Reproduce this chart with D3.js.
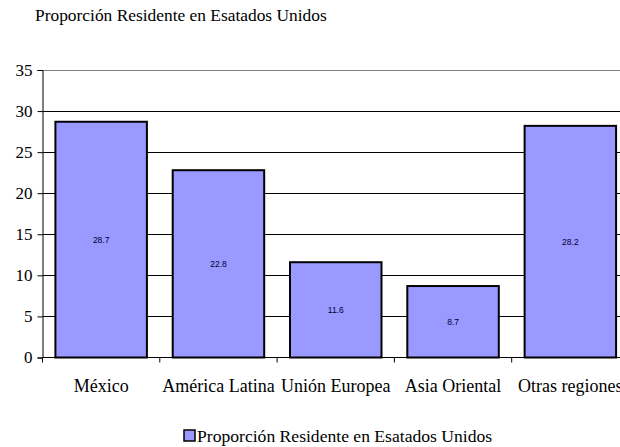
<!DOCTYPE html>
<html>
<head>
<meta charset="utf-8">
<script src="https://cdn.jsdelivr.net/npm/d3@7"></script>
<style>
	body { margin: 0; background: #ffffff; }
	text { font-family: "Liberation Serif", "Times New Roman", serif; }
</style>
</head>
<body>
<div id="chart"></div>
<script>
// data
let categories = ['México', 'América Latina', 'Unión Europea', 'Asia Oriental', 'Otras regiones'];
let values = [28.7, 22.8, 11.6, 8.7, 28.2];
let yTicks = [0, 5, 10, 15, 20, 25, 30, 35];
let seriesName = 'Proporción Residente en Esatados Unidos';
let title = 'Proporción Residente en Esatados Unidos';

let width = 620, height = 447;

let svg = d3.select('#chart').append('svg')
	.attr('width', width)
	.attr('height', height);

let plot = {left: 42.5, top: 70, right: 629, bottom: 357.5};

let x = d3.scaleBand()
	.domain(categories)
	.range([plot.left, plot.right])
	.paddingInner(0.22)
	.paddingOuter(0.11);

let y = d3.scaleLinear()
	.domain([0, 35])
	.range([plot.bottom, plot.top]);

// title
svg.append('text')
	.attr('x', 35)
	.attr('y', 21)
	.style('font-size', '17.4px')
	.text(title);

// grid lines
svg.append('g')
	.selectAll('line')
	.data(yTicks.filter(d => d > 0))
	.enter()
	.append('line')
	.attr('x1', plot.left)
	.attr('x2', plot.right)
	.attr('y1', d => Math.round(y(d)) + 0.5)
	.attr('y2', d => Math.round(y(d)) + 0.5)
	.attr('stroke', d => d == 35 ? '#808080' : '#000000')
	.attr('stroke-width', 1);

// y axis
let yAxis = d3.axisLeft(y)
	.tickValues(yTicks)
	.tickSize(5)
	.tickFormat(d3.format('d'));

let yg = svg.append('g')
	.attr('transform', `translate(${plot.left},0)`)
	.call(yAxis);

yg.select('.domain').attr('stroke', '#000000');
yg.selectAll('.tick line').attr('stroke', '#000000');
yg.selectAll('text')
	.style('font-family', '"Liberation Serif", serif')
	.style('font-size', '17px')
	.attr('fill', '#000000')
	.attr('dx', '-2');

// x axis (ticks between categories)
let xg = svg.append('g')
	.attr('transform', `translate(0,${plot.bottom})`);

xg.append('line')
	.attr('x1', plot.left)
	.attr('x2', plot.right)
	.attr('stroke', '#000000');

let step = x.step();
xg.selectAll('.sep')
	.data(d3.range(categories.length + 1))
	.enter()
	.append('line')
	.attr('x1', i => plot.left + i * step)
	.attr('x2', i => plot.left + i * step)
	.attr('y1', 0)
	.attr('y2', 5)
	.attr('stroke', '#000000');

xg.selectAll('.cat')
	.data(categories)
	.enter()
	.append('text')
	.attr('x', d => x(d) + x.bandwidth() / 2)
	.attr('y', 34)
	.attr('text-anchor', 'middle')
	.style('font-size', '18px')
	.text(d => d);

// bars
let bars = svg.append('g')
	.selectAll('rect')
	.data(values)
	.enter();

bars.append('rect')
	.attr('x', (d, i) => x(categories[i]))
	.attr('y', d => y(d))
	.attr('width', x.bandwidth())
	.attr('height', d => y(0) - y(d))
	.attr('fill', '#9999ff')
	.attr('stroke', '#000000')
	.attr('stroke-width', 2);

bars.append('text')
	.attr('x', (d, i) => x(categories[i]) + x.bandwidth() / 2)
	.attr('y', d => (y(d) + y(0)) / 2 + 3)
	.attr('text-anchor', 'middle')
	.style('font-family', '"Liberation Sans", Arial, sans-serif')
	.style('font-size', '8.5px')
	.attr('fill', '#000033')
	.text(d => d);

// legend
let legend = svg.append('g')
	.attr('transform', 'translate(184,430)');

legend.append('rect')
	.attr('x', 0)
	.attr('y', 0)
	.attr('width', 11)
	.attr('height', 11)
	.attr('fill', '#9999ff')
	.attr('stroke', '#000000')
	.attr('stroke-width', 1.5);

legend.append('text')
	.attr('x', 13)
	.attr('y', 12)
	.style('font-size', '17.6px')
	.text(seriesName);
</script>
</body>
</html>
